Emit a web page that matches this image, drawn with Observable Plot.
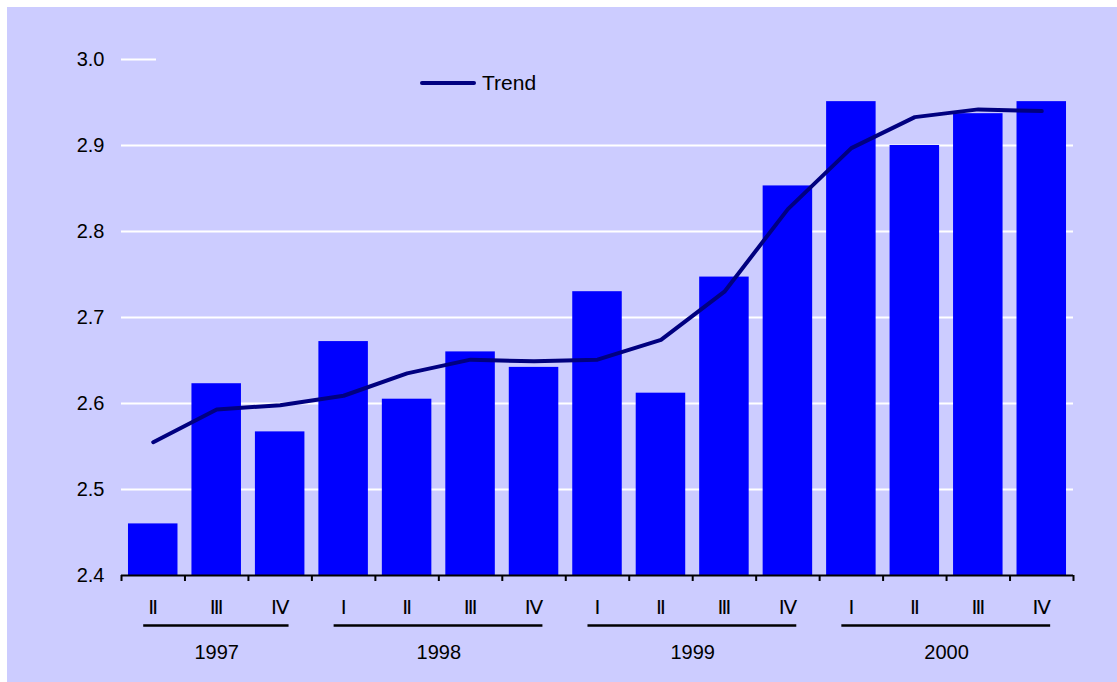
<!DOCTYPE html>
<html>
<head>
<meta charset="utf-8">
<script src="https://cdn.jsdelivr.net/npm/d3@7"></script>
<script src="https://cdn.jsdelivr.net/npm/@observablehq/plot@0.6"></script>
<style>
  html, body { margin: 0; padding: 0; background: #ffffff; }
  #wrap { position: relative; width: 1117px; height: 682px; overflow: hidden; font-family: "Liberation Sans", Arial, "DejaVu Sans", sans-serif; }
  #bg { position: absolute; left: 7px; top: 7px; right: 0; bottom: 0; background: #CCCCFF; }
  #chart { position: absolute; left: 0; top: 0; }
  #legend { position: absolute; left: 156px; top: 50px; width: 922px; height: 47px; background: #CCCCFF; }
  #legend .sw { position: absolute; left: 264px; top: 31px; width: 56px; height: 4px; background: #000080; border-radius: 2px; }
  #legend .lb { position: absolute; left: 326px; top: 21px; font-size: 21px; color: #000; line-height: 24px; }
</style>
</head>
<body>
<div id="wrap">
  <div id="bg"></div>
  <div id="chart"></div>
  <div id="legend"><div class="sw"></div><div class="lb">Trend</div></div>
</div>
<script>
const quarters = ["Ⅱ","Ⅲ","Ⅳ","Ⅰ","Ⅱ","Ⅲ","Ⅳ","Ⅰ","Ⅱ","Ⅲ","Ⅳ","Ⅰ","Ⅱ","Ⅲ","Ⅳ"];
const yearOf = [1997,1997,1997,1998,1998,1998,1998,1999,1999,1999,1999,2000,2000,2000,2000];
const values = [2.460,2.623,2.567,2.672,2.605,2.660,2.642,2.730,2.612,2.747,2.853,2.951,2.900,2.937,2.951];
const trend  = [2.555,2.593,2.598,2.609,2.635,2.651,2.649,2.651,2.674,2.730,2.826,2.897,2.933,2.942,2.940];
const yearLabels = ["1997","1998","1999","2000"];
const yTicks = [2.4,2.5,2.6,2.7,2.8,2.9,3.0];

const rows = values.map((v, i) => ({i, q: quarters[i], year: yearOf[i], v, t: trend[i]}));
const years = yearLabels.map(y => {
  const idx = rows.filter(r => String(r.year) === y).map(r => r.i);
  const first = d3.min(idx), last = d3.max(idx);
  return {label: y, first, last, mid: (first + last) / 2};
});
const n = rows.length;
const boundaries = d3.range(n + 1).map(k => k - 0.5);
const fontFamily = '"Liberation Sans", Arial, "DejaVu Sans", sans-serif';

const chart = Plot.plot({
  width: 1117,
  height: 682,
  marginLeft: 121,
  marginRight: 44,
  marginTop: 59,
  marginBottom: 107,
  style: {background: "transparent", fontFamily, fontSize: "20px", color: "#000"},
  x: {type: "linear", domain: [-0.5, n - 0.5]},
  y: {domain: [2.4, 3.0]},
  marks: [
    Plot.gridY(yTicks.filter(t => t > 2.4), {stroke: "#fff", strokeOpacity: 1, strokeWidth: 2}),
    Plot.rectY(rows, {x1: d => d.i - 0.39, x2: d => d.i + 0.39, y1: 2.4, y2: "v", fill: "#0000FF"}),
    Plot.line(rows, {x: "i", y: "t", stroke: "#000080", strokeWidth: 4, strokeLinejoin: "round", strokeLinecap: "round"}),
    Plot.ruleY([2.4], {stroke: "#000", strokeWidth: 2}),
    Plot.axisX({ticks: boundaries, tickSize: 6, tickFormat: () => "", stroke: "#000", strokeWidth: 2}),
    Plot.axisY({ticks: yTicks, tickSize: 0, tickPadding: 17, tickFormat: d3.format(".1f"), fontSize: 20, fill: "#000"}),
    Plot.text(rows, {x: "i", y: () => 2.4, text: "q", dy: 32, fontSize: 20, fill: "#000"}),
    Plot.ruleY(years, {y: () => 2.4, x1: d => d.first - 0.15, x2: d => d.last + 0.14, dy: 50, stroke: "#000", strokeWidth: 2.5}),
    Plot.text(years, {x: "mid", y: () => 2.4, text: "label", dy: 77, fontSize: 20, fill: "#000"})
  ]
});
document.getElementById("chart").appendChild(chart);
</script>
</body>
</html>
